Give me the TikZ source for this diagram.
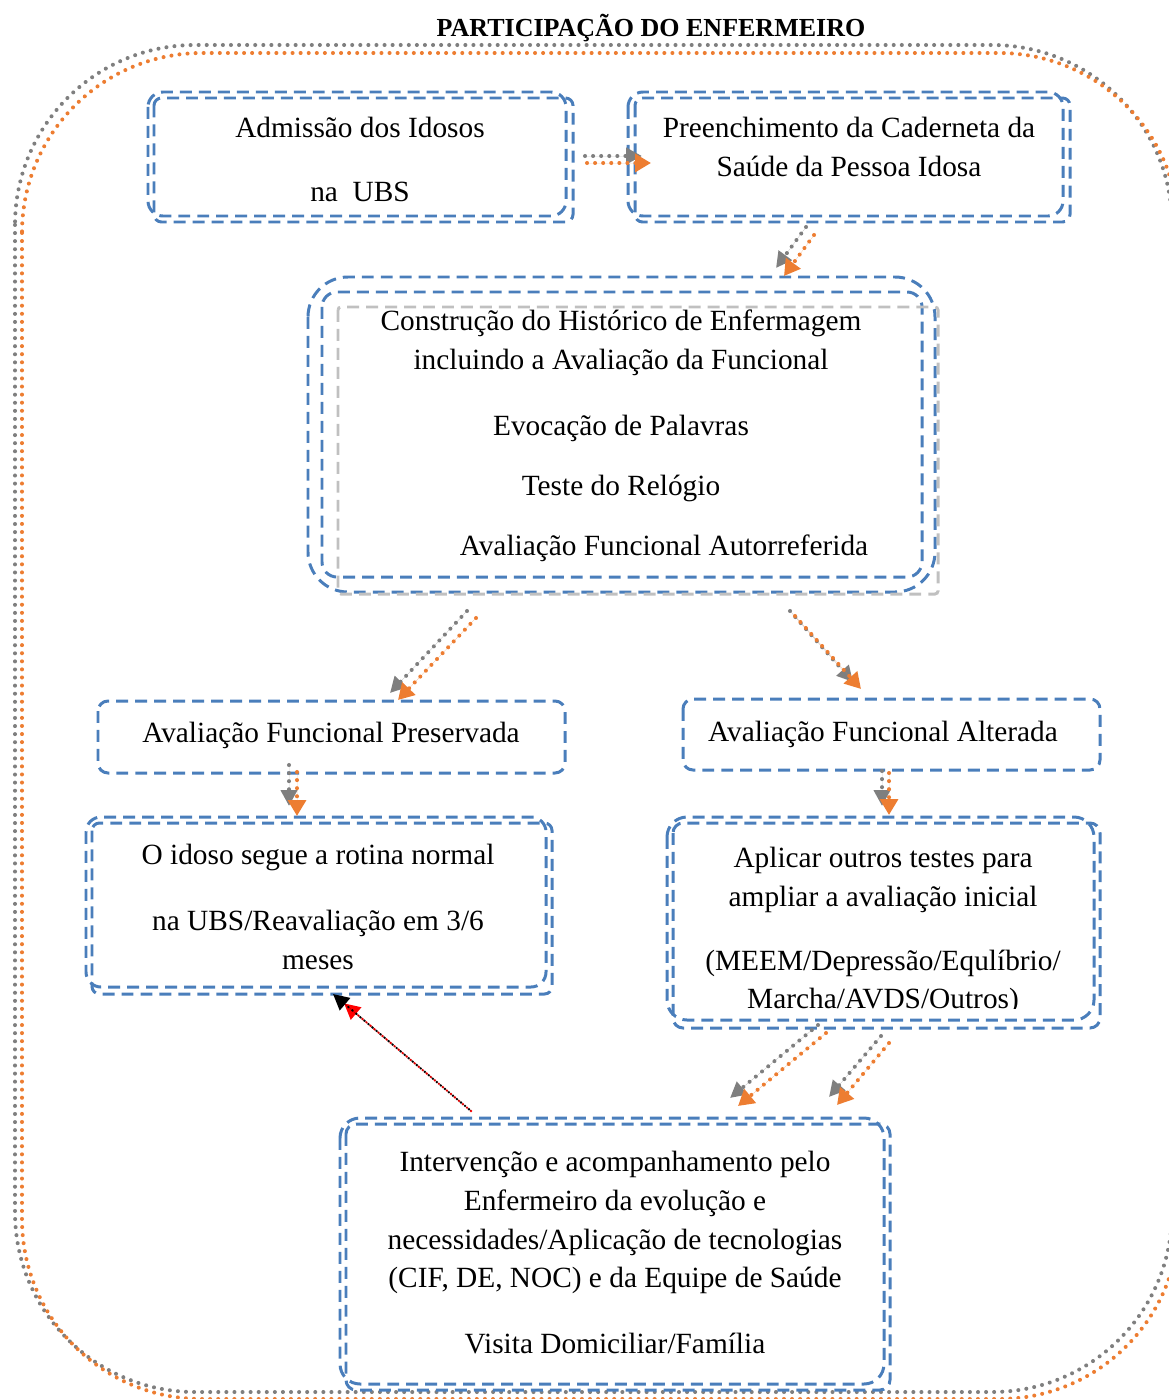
\documentclass[tikz,border=0pt]{standalone}
\usepackage{fontspec}
\setmainfont{Liberation Serif}
\usetikzlibrary{arrows.meta,calc}
\definecolor{bxblue}{HTML}{4A7EBB}
\definecolor{dotgray}{HTML}{7F7F7F}
\definecolor{dotorange}{HTML}{ED7D31}
\definecolor{boxgray}{HTML}{C0C0C0}
\tikzset{
  bluebox/.style={draw=bxblue, line width=1.7pt, dash pattern=on 6.8pt off 4pt},
  graybox/.style={draw=boxgray, line width=1.7pt, dash pattern=on 6.8pt off 4pt},
  dotline/.style={line width=2.3pt, line cap=round, dash pattern=on 0pt off 4.6pt},
  gline/.style={dotline, draw=dotgray, -{Triangle[length=9pt,width=9pt]}, fill=dotgray},
  oline/.style={dotline, draw=dotorange, -{Triangle[length=9pt,width=10pt]}, fill=dotorange},
  txt/.style={anchor=base, inner sep=0pt, font=\fontsize{16.7}{20}\selectfont},
}
\begin{document}
\begin{tikzpicture}[x=0.02cm,y=-0.02cm]
\useasboundingbox (0,0) rectangle (1169,1399);

% outer frame: two dotted rounded outlines
\draw[dotline, dotgray, rounded corners=3.6cm] (15,45) rectangle (1172,1392);
\draw[dotline, dotorange, rounded corners=3.6cm] (22,53) rectangle (1179,1399);

\node[font=\bfseries\fontsize{14.8}{17}\selectfont] (title) at (651,28) {PARTICIPAÇÃO DO ENFERMEIRO};

% box 1
\draw[bluebox, rounded corners=0.3cm] (148,92) rectangle (566,216);
\draw[bluebox, rounded corners=0.15cm] (154,98) rectangle (573,222);
\node[txt] (adm1) at (360,137) {Admissão dos Idosos};
\node[txt] (adm2) at (360,201) {na~ UBS};

% box 2
\draw[bluebox, rounded corners=0.3cm] (628,92) rectangle (1063,216);
\draw[bluebox, rounded corners=0.15cm] (635,98) rectangle (1070,222);
\node[txt] (cad1) at (849,137) {Preenchimento da Caderneta da};
\node[txt] (cad2) at (849,176) {Saúde da Pessoa Idosa};

% box 3
\draw[bluebox, rounded corners=0.8cm] (308,277) rectangle (935,592);
\draw[bluebox, rounded corners=0.3cm] (322,292) rectangle (922,577);
\draw[graybox, rounded corners=0.06cm] (338,307) rectangle (938,594);
\node[txt] (hist1) at (621,330) {Construção do Histórico de Enfermagem};
\node[txt] (hist2) at (621,369) {incluindo a Avaliação da Funcional};
\node[txt] (hist3) at (621,435) {Evocação de Palavras};
\node[txt] (hist4) at (621,495) {Teste do Relógio};
\node[txt] (hist5) at (664,555) {Avaliação Funcional Autorreferida};

% box 4
\draw[bluebox, rounded corners=0.2cm] (98,701) rectangle (565,773);
\node[txt] (pres) at (331,742) {Avaliação Funcional Preservada};

% box 5
\draw[bluebox, rounded corners=0.2cm] (683,699) rectangle (1100,770);
\node[txt] (alt) at (883,741) {Avaliação Funcional Alterada};

% box 6
\draw[bluebox, rounded corners=0.3cm] (86,817) rectangle (546,987);
\draw[bluebox, rounded corners=0.15cm] (92,823) rectangle (552,994);
\node[txt] (rot1) at (318,864) {O idoso segue a rotina normal};
\node[txt] (rot2) at (318,930) {na UBS/Reavaliação em 3/6};
\node[txt] (rot3) at (318,969) {meses};

% box 7
\draw[bluebox, rounded corners=0.4cm] (667,817) rectangle (1094,1020);
\draw[bluebox, rounded corners=0.2cm] (673,823) rectangle (1100,1028);
\node[txt] (tes1) at (883,867) {Aplicar outros testes para};
\node[txt] (tes2) at (883,906) {ampliar a avaliação inicial};
\node[txt] (tes3) at (883,970) {(MEEM/Depressão/Equlíbrio/};
\begin{scope}
\clip (600,980) rectangle (1150,1008);
\node[txt] (tes4) at (883,1008) {Marcha/AVDS/Outros)};
\end{scope}

% box 8
\draw[bluebox, rounded corners=0.4cm] (340,1118) rectangle (884,1384);
\draw[bluebox, rounded corners=0.2cm] (346,1124) rectangle (890,1390);
\node[txt] (int1) at (615,1171) {Intervenção e acompanhamento pelo};
\node[txt] (int2) at (615,1210) {Enfermeiro da evolução e};
\node[txt] (int3) at (615,1249) {necessidades/Aplicação de tecnologias};
\node[txt] (int4) at (615,1287) {(CIF, DE, NOC) e da Equipe de Saúde};
\node[txt] (int5) at (615,1353) {Visita Domiciliar/Família};

% arrow end points
\coordinate (a1gs) at (585,156);  \coordinate (a1ge) at (642,156);
\coordinate (a1os) at (587,163);  \coordinate (a1oe) at (651,163);
\coordinate (a2gs) at (806,227);  \coordinate (a2ge) at (776,268);
\coordinate (a2os) at (814,235);  \coordinate (a2oe) at (784,276);
\coordinate (a3gs) at (467,611);  \coordinate (a3ge) at (390,693);
\coordinate (a3os) at (476,618);  \coordinate (a3oe) at (398,700);
\coordinate (a4gs) at (790,611);  \coordinate (a4ge) at (853,682);
\coordinate (a4os) at (795,616);  \coordinate (a4oe) at (861,689);
\coordinate (a5gs) at (289,765);  \coordinate (a5ge) at (289,806);
\coordinate (a5os) at (297,772);  \coordinate (a5oe) at (297,816);
\coordinate (a6gs) at (882,771);  \coordinate (a6ge) at (882,806);
\coordinate (a6os) at (889,773);  \coordinate (a6oe) at (889,815);
\coordinate (a7gs) at (818,1025); \coordinate (a7ge) at (730,1098);
\coordinate (a7os) at (826,1033); \coordinate (a7oe) at (738,1106);
\coordinate (a8gs) at (881,1036); \coordinate (a8ge) at (829,1097);
\coordinate (a8os) at (889,1043); \coordinate (a8oe) at (837,1105);
\coordinate (a9s) at (471,1111);  \coordinate (a9e) at (333,994);

% connectors
\foreach \k in {1,...,8}{
  \draw[gline] (a\k gs) -- (a\k ge);
  \draw[oline] (a\k os) -- (a\k oe);
}
\draw[line width=1.5pt, line cap=round, dash pattern=on 0pt off 3pt, draw=red, fill=red,
      -{Triangle[length=9pt,width=9pt]}] (a9s) -- ($(a9e)!0.08!(a9s)$);
\draw[line width=1.5pt, line cap=round, dash pattern=on 0pt off 3pt, dash phase=1.5pt, draw=black, fill=black,
      -{Triangle[length=9pt,width=9pt]}] (a9s) -- (a9e);
\end{tikzpicture}
\end{document}
